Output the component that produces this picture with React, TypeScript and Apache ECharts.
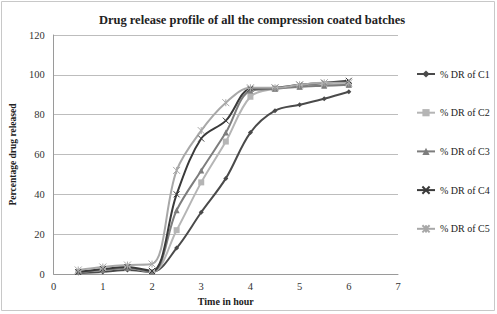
import React, { useEffect, useRef } from "react";
import * as echarts from "echarts";

const timeHours = [0.5, 1, 1.5, 2, 2.5, 3, 3.5, 4, 4.5, 5, 5.5, 6];
const seriesNames = ["% DR of C1", "% DR of C2", "% DR of C3", "% DR of C4", "% DR of C5"];
const drC1 = [0.5, 1, 2, 1, 13, 31, 48, 71, 82, 85, 88, 91.5];
const drC2 = [1, 2, 3, 1, 22, 46, 66.5, 89, 93, 94, 95, 95];
const drC3 = [1, 2, 3, 1, 32, 52, 71, 92, 93, 94, 94.5, 95];
const drC4 = [1, 2.5, 3.5, 1.5, 40, 68, 77, 93, 93.5, 95, 96, 97];
const drC5 = [2, 3.5, 4.5, 5, 52, 72, 86, 93.5, 93.5, 95, 96, 96];
const yTicks = [0, 20, 40, 60, 80, 100, 120];

const colors = ["#4a4a4a", "#b5b5b5", "#7d7d7d", "#3a3a3a", "#a8a8a8"];
const symbols = [
  "diamond",
  "rect",
  "triangle",
  "path://M0,0L10,10M10,0L0,10",
  "path://M0,0L10,10M10,0L0,10M5,0L5,10",
];
const symbolSizes = [5, 6, 6, 6, 7];

export default function App() {
  const ref = useRef<HTMLDivElement>(null);
  useEffect(() => {
    document.body.style.margin = "0";
    const chart = echarts.init(ref.current!, null, { renderer: "svg" });
    const all = [drC1, drC2, drC3, drC4, drC5];
    const font = "Liberation Serif";
    chart.setOption({
      animation: false,
      backgroundColor: "#ffffff",
      textStyle: { fontFamily: font },
      title: {
        text: "Drug release profile of all the compression coated batches",
        left: 247,
        top: 8,
        textAlign: "center",
        textStyle: { fontFamily: font, fontSize: 12.5, fontWeight: "bold", color: "#222" },
      },
      graphic: [
        {
          type: "rect",
          shape: { x: 1.5, y: 1.5, width: 493, height: 309 },
          style: { fill: "none", stroke: "#c8c8c8", lineWidth: 1 },
          silent: true,
        },
      ],
      legend: {
        orient: "vertical",
        left: 411,
        top: 64,
        itemWidth: 18,
        itemHeight: 9,
        itemGap: 28.7,
        data: seriesNames,
        textStyle: { fontFamily: font, fontSize: 10, color: "#222", lineHeight: 10 },
      },
      grid: { left: 51, right: 99, top: 35, bottom: 40, containLabel: false },
      xAxis: {
        type: "value",
        min: 0,
        max: 7,
        interval: 1,
        name: "Time in hour",
        nameLocation: "middle",
        nameGap: 22,
        nameTextStyle: { fontFamily: font, fontSize: 10, fontWeight: "bold", color: "#222" },
        axisLine: { lineStyle: { color: "#9a9a9a" } },
        axisTick: { show: false },
        splitLine: { show: false },
        axisLabel: { fontFamily: font, fontSize: 10.5, color: "#333", margin: 7 },
      },
      yAxis: {
        type: "value",
        min: 0,
        max: 120,
        interval: 20,
        name: "Percentage drug released",
        nameLocation: "middle",
        nameGap: 32,
        nameTextStyle: { fontFamily: font, fontSize: 9.5, fontWeight: "bold", color: "#222" },
        axisLine: { show: true, lineStyle: { color: "#9a9a9a" } },
        axisTick: { show: false },
        splitLine: { lineStyle: { color: "#bdbdbd" } },
        axisLabel: {
          fontFamily: font,
          fontSize: 10.5,
          color: "#333",
          margin: 9,
          formatter: (v: number) => (yTicks.includes(v) ? String(v) : ""),
        },
      },
      series: all.map((vals, i) => ({
        name: seriesNames[i],
        type: "line",
        smooth: 0.35,
        data: timeHours.map((t, j) => [t, vals[j]]),
        symbol: symbols[i],
        symbolSize: symbolSizes[i],
        showAllSymbol: true,
        lineStyle: { color: colors[i], width: 2 },
        itemStyle: { color: colors[i], borderColor: colors[i], borderWidth: i >= 3 ? 1 : 0 },
      })),
    });
    return () => chart.dispose();
  }, []);
  return <div ref={ref} style={{ width: 497, height: 314 }} />;
}
